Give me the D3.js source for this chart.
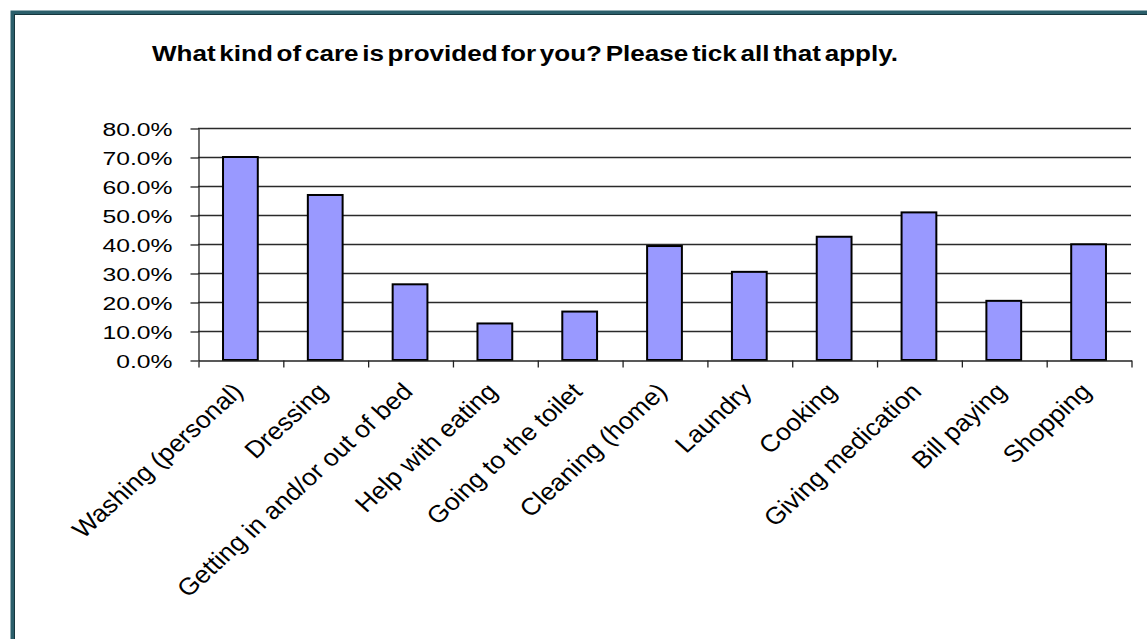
<!DOCTYPE html>
<html>
<head>
<meta charset="utf-8">
<script src="https://cdn.jsdelivr.net/npm/d3@7"></script>
<style>
    body { margin: 0; background: #fff; }
    svg { display: block; font-family: "Liberation Sans", Arial, sans-serif; }
</style>
</head>
<body>
<div id="chart"></div>
<script>
// survey answers, share of respondents
const categories = [
    "Washing (personal)", "Dressing", "Getting in and/or out of bed",
    "Help with eating", "Going to the toilet", "Cleaning (home)",
    "Laundry", "Cooking", "Giving medication", "Bill paying", "Shopping"
];
const values = [0.700, 0.569, 0.261, 0.126, 0.167, 0.393, 0.304, 0.425, 0.509, 0.204, 0.399];
const yTicks = [0, 0.1, 0.2, 0.3, 0.4, 0.5, 0.6, 0.7, 0.8];
const title = "What kind of care is provided for you? Please tick all that apply.";

let width = 1147,
    height = 639,
    margin = ({ top: 128, right: 16, bottom: 279, left: 198 });

// the picture is a bit stretched sideways, text gets squeezed back like that
let stretch = 1.3,
    labelStretch = 1.1;

let x = d3.scaleBand()
    .domain(d3.range(categories.length))
    .range([margin.left, width - margin.right])
    .paddingInner(0.59)
    .paddingOuter(0.295);

// boundaries between categories for the tick marks
let xEdge = d3.scaleLinear()
    .domain([0, categories.length])
    .range([margin.left, width - margin.right]);

let y = d3.scaleLinear()
    .domain([0, 0.8])
    .range([height - margin.bottom, margin.top]);

let svg = d3.select("#chart")
    .append("svg")
    .attr("width", width)
    .attr("height", height);

// frame round the chart
svg.append("rect")
    .attr("x", 12.5)
    .attr("y", 12.5)
    .attr("width", width + 20)
    .attr("height", height + 20)
    .attr("fill", "none")
    .attr("stroke", "#2b5f6b")
    .attr("stroke-width", 4);
svg.append("rect")
    .attr("x", 14.5)
    .attr("y", 14.5)
    .attr("width", width + 20)
    .attr("height", height + 20)
    .attr("fill", "none")
    .attr("stroke", "#16363d")
    .attr("stroke-width", 1);

svg.append("text")
    .attr("x", 152)
    .attr("y", 61)
    .attr("textLength", 746)
    .attr("lengthAdjust", "spacingAndGlyphs")
    .style("font-size", "22px")
    .style("font-weight", "bold")
    .style("word-spacing", "-3px")
    .attr("fill", "#000")
    .text(title);

// gridlines
svg.append("g")
    .selectAll("line")
    .data(yTicks.slice(1))
    .join("line")
    .attr("x1", margin.left)
    .attr("x2", width - margin.right)
    .attr("y1", d => Math.round(y(d)) + 0.5)
    .attr("y2", d => Math.round(y(d)) + 0.5)
    .attr("stroke", "#2a2a2a")
    .attr("stroke-width", 1.3);

// y axis
let yAxis = g => g
    .attr("transform", `translate(${margin.left + 0.5},0.5)`)
    .call(d3.axisLeft(y).tickValues(yTicks).tickFormat(d3.format(".1%")).tickSize(8).tickSizeOuter(0))
    .call(g => g.selectAll("line, path").attr("stroke", "#222").attr("stroke-width", 1.3))
    .call(g => g.selectAll("text")
        .attr("x", null)
        .attr("dy", null)
        .attr("text-anchor", "end")
        .attr("transform", "translate(-26,7) scale(" + stretch + ",1)")
        .style("font-size", "19px")
        .attr("fill", "#000"));

svg.append("g").call(yAxis);

// bars
svg.append("g")
    .selectAll("rect")
    .data(values)
    .join("rect")
    .attr("x", (d, i) => x(i))
    .attr("y", d => y(d))
    .attr("width", x.bandwidth())
    .attr("height", d => y(0) - y(d))
    .attr("fill", "#9999ff")
    .attr("stroke", "#000")
    .attr("stroke-width", 2);

// x axis with ticks between categories
let xAxis = g => g
    .attr("transform", `translate(0.5,${height - margin.bottom + 0.5})`)
    .call(d3.axisBottom(xEdge).tickValues(d3.range(categories.length + 1)).tickFormat("").tickSize(7).tickSizeOuter(0))
    .call(g => g.selectAll("line, path").attr("stroke", "#222").attr("stroke-width", 1.3));

svg.append("g").call(xAxis);

// rotated category labels
svg.append("g")
    .selectAll("text")
    .data(categories)
    .join("text")
    .attr("text-anchor", "end")
    .attr("transform", (d, i) => `translate(${x(i) + x.bandwidth() / 2 + 4},393) scale(${labelStretch},1) rotate(-45)`)
    .style("font-size", "24px")
    .attr("fill", "#000")
    .text(d => d);
</script>
</body>
</html>
